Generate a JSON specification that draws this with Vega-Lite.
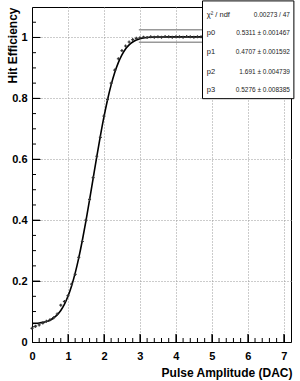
{
  "$schema": "https://vega.github.io/schema/vega-lite/v6.json",
  "width": 259,
  "height": 335,
  "autosize": {"type": "none"},
  "padding": {"left": 32, "top": 7, "right": 9, "bottom": 39},
  "background": "white",
  "config": {
    "view": {"stroke": "#000", "strokeWidth": 1},
    "font": "Liberation Sans",
    "axis": {
      "labelFont": "Liberation Sans",
      "labelFontWeight": "bold",
      "labelFontSize": 11,
      "labelColor": "#000",
      "titleFont": "Liberation Sans",
      "titleFontWeight": "bold",
      "titleFontSize": 12,
      "titleColor": "#000",
      "domainColor": "#000",
      "domainWidth": 1,
      "tickColor": "#000",
      "tickWidth": 1,
      "gridColor": "#999",
      "gridDash": [1, 2],
      "gridWidth": 1,
      "labelOverlap": false,
      "labelFlush": false
    }
  },
  "datasets": {
    "curve": [
      {"x": 0.0, "y": 0.0611}, {"x": 0.1, "y": 0.0616}, {"x": 0.2, "y": 0.0626}, {"x": 0.3, "y": 0.0644},
      {"x": 0.4, "y": 0.0673}, {"x": 0.5, "y": 0.0717}, {"x": 0.6, "y": 0.0788}, {"x": 0.7, "y": 0.089},
      {"x": 0.8, "y": 0.1035}, {"x": 0.9, "y": 0.1235}, {"x": 1.0, "y": 0.1501}, {"x": 1.1, "y": 0.1841},
      {"x": 1.2, "y": 0.2262}, {"x": 1.3, "y": 0.2763}, {"x": 1.4, "y": 0.3341}, {"x": 1.5, "y": 0.398},
      {"x": 1.6, "y": 0.4666}, {"x": 1.7, "y": 0.5375}, {"x": 1.8, "y": 0.6081}, {"x": 1.9, "y": 0.676},
      {"x": 2.0, "y": 0.739}, {"x": 2.1, "y": 0.7955}, {"x": 2.2, "y": 0.8442}, {"x": 2.3, "y": 0.8848},
      {"x": 2.4, "y": 0.9175}, {"x": 2.5, "y": 0.9428}, {"x": 2.6, "y": 0.962}, {"x": 2.7, "y": 0.9756},
      {"x": 2.8, "y": 0.9851}, {"x": 2.9, "y": 0.9915}, {"x": 3.0, "y": 0.9956}, {"x": 3.2, "y": 0.9998},
      {"x": 3.4, "y": 1.0013}, {"x": 3.6, "y": 1.0017}, {"x": 4.0, "y": 1.0018}, {"x": 4.74, "y": 1.0018}
    ],
    "points": [
      {"x": 0.0, "y": 0.045}, {"x": 0.1, "y": 0.052}, {"x": 0.2, "y": 0.056}, {"x": 0.3, "y": 0.062},
      {"x": 0.4, "y": 0.068}, {"x": 0.5, "y": 0.073}, {"x": 0.6, "y": 0.08}, {"x": 0.7, "y": 0.092},
      {"x": 0.8, "y": 0.121}, {"x": 0.9, "y": 0.133}, {"x": 1.0, "y": 0.152}, {"x": 1.1, "y": 0.19},
      {"x": 1.2, "y": 0.222}, {"x": 1.3, "y": 0.278}, {"x": 1.4, "y": 0.33}, {"x": 1.5, "y": 0.4},
      {"x": 1.6, "y": 0.468}, {"x": 1.7, "y": 0.54}, {"x": 1.8, "y": 0.61}, {"x": 1.9, "y": 0.672},
      {"x": 2.0, "y": 0.742}, {"x": 2.1, "y": 0.797}, {"x": 2.2, "y": 0.85}, {"x": 2.3, "y": 0.893},
      {"x": 2.4, "y": 0.93}, {"x": 2.5, "y": 0.957}, {"x": 2.6, "y": 0.972}, {"x": 2.7, "y": 0.985},
      {"x": 2.8, "y": 0.993}, {"x": 2.9, "y": 0.997}, {"x": 3.0, "y": 0.999}, {"x": 3.1, "y": 1.001},
      {"x": 3.2, "y": 1.0}, {"x": 3.3, "y": 1.002}, {"x": 3.4, "y": 1.001}, {"x": 3.5, "y": 1.002},
      {"x": 3.6, "y": 1.001}, {"x": 3.7, "y": 1.003}, {"x": 3.8, "y": 1.002}, {"x": 3.9, "y": 1.001},
      {"x": 4.0, "y": 1.002}, {"x": 4.1, "y": 1.002}, {"x": 4.2, "y": 1.001}, {"x": 4.3, "y": 1.003},
      {"x": 4.4, "y": 1.002}, {"x": 4.5, "y": 1.001}, {"x": 4.6, "y": 1.002}, {"x": 4.7, "y": 1.002}
    ],
    "xminor": [
      {"t": 0.2}, {"t": 0.4}, {"t": 0.6}, {"t": 0.8}, {"t": 1.2}, {"t": 1.4}, {"t": 1.6}, {"t": 1.8},
      {"t": 2.2}, {"t": 2.4}, {"t": 2.6}, {"t": 2.8}, {"t": 3.2}, {"t": 3.4}, {"t": 3.6}, {"t": 3.8},
      {"t": 4.2}, {"t": 4.4}, {"t": 4.6}, {"t": 4.8}, {"t": 5.2}, {"t": 5.4}, {"t": 5.6}, {"t": 5.8},
      {"t": 6.2}, {"t": 6.4}, {"t": 6.6}, {"t": 6.8}
    ],
    "xmajor": [{"t": 1}, {"t": 2}, {"t": 3}, {"t": 4}, {"t": 5}, {"t": 6}, {"t": 7}],
    "yminor": [
      {"t": 0.05}, {"t": 0.1}, {"t": 0.15}, {"t": 0.25}, {"t": 0.3}, {"t": 0.35}, {"t": 0.45}, {"t": 0.5},
      {"t": 0.55}, {"t": 0.65}, {"t": 0.7}, {"t": 0.75}, {"t": 0.85}, {"t": 0.9}, {"t": 0.95}, {"t": 1.05}
    ],
    "ymajor": [{"t": 0.2}, {"t": 0.4}, {"t": 0.6}, {"t": 0.8}, {"t": 1.0}]
  },
  "layer": [
    {
      "data": {"name": "curve"},
      "mark": {"type": "line", "color": "#000", "strokeWidth": 1.6, "interpolate": "monotone"},
      "encoding": {
        "x": {
          "field": "x", "type": "quantitative",
          "scale": {"domain": [0, 7.2], "nice": false, "zero": false},
          "axis": {
            "orient": "bottom",
            "values": [0, 1, 2, 3, 4, 5, 6, 7],
            "tickCount": 100,
            "format": "d",
            "ticks": true,
            "tickSize": -8,
            "grid": true,
            "labelPadding": 16,
            "title": "Pulse Amplitude (DAC)",
            "titleAnchor": "end",
            "titleAlign": "right",
            "titleBaseline": "middle",
            "titleX": 260,
            "titleY": 30
          }
        },
        "y": {
          "field": "y", "type": "quantitative",
          "scale": {"domain": [0, 1.1], "nice": false, "zero": false},
          "axis": {
            "orient": "left",
            "values": [0, 0.2, 0.4, 0.6, 0.8, 1],
            "tickCount": 100,
            "labelExpr": "format(datum.value, '.1~f')",
            "ticks": true,
            "tickSize": -8,
            "grid": true,
            "labelPadding": 13,
            "title": "Hit Efficiency",
            "titleAnchor": "end",
            "titleAlign": "right",
            "titleBaseline": "middle",
            "titleAngle": -90,
            "titleX": -20,
            "titleY": 0
          }
        }
      }
    },
    {
      "data": {"name": "xminor"},
      "mark": {"type": "rule", "color": "#000", "strokeWidth": 1},
      "encoding": {
        "x": {"field": "t", "type": "quantitative", "scale": {"domain": [0, 7.2], "nice": false, "zero": false}},
        "y": {"datum": 0, "type": "quantitative", "scale": {"domain": [0, 1.1], "nice": false, "zero": false}},
        "y2": {"datum": 0.0131}
      }
    },
    {
      "data": {"name": "xmajor"},
      "mark": {"type": "rule", "color": "#000", "strokeWidth": 1},
      "encoding": {
        "x": {"field": "t", "type": "quantitative", "scale": {"domain": [0, 7.2], "nice": false, "zero": false}},
        "y": {"datum": 0, "type": "quantitative", "scale": {"domain": [0, 1.1], "nice": false, "zero": false}},
        "y2": {"datum": 0.0263}
      }
    },
    {
      "data": {"name": "yminor"},
      "mark": {"type": "rule", "color": "#000", "strokeWidth": 1},
      "encoding": {
        "y": {"field": "t", "type": "quantitative", "scale": {"domain": [0, 1.1], "nice": false, "zero": false}},
        "x": {"datum": 0, "type": "quantitative", "scale": {"domain": [0, 7.2], "nice": false, "zero": false}},
        "x2": {"datum": 0.111}
      }
    },
    {
      "data": {"name": "ymajor"},
      "mark": {"type": "rule", "color": "#000", "strokeWidth": 1},
      "encoding": {
        "y": {"field": "t", "type": "quantitative", "scale": {"domain": [0, 1.1], "nice": false, "zero": false}},
        "x": {"datum": 0, "type": "quantitative", "scale": {"domain": [0, 7.2], "nice": false, "zero": false}},
        "x2": {"datum": 0.222}
      }
    },
    {
      "data": {"name": "points"},
      "mark": {"type": "point", "shape": "cross", "filled": true, "size": 9, "color": "#333", "opacity": 1},
      "encoding": {
        "x": {"field": "x", "type": "quantitative", "scale": {"domain": [0, 7.2], "nice": false, "zero": false}},
        "y": {"field": "y", "type": "quantitative", "scale": {"domain": [0, 1.1], "nice": false, "zero": false}}
      }
    },
    {
      "data": {"values": [{"k": 1.025}, {"k": 0.984}]},
      "mark": {"type": "rule", "color": "#999", "strokeWidth": 1.5},
      "encoding": {
        "y": {"field": "k", "type": "quantitative", "scale": {"domain": [0, 1.1], "nice": false, "zero": false}},
        "x": {"datum": 2.97, "type": "quantitative", "scale": {"domain": [0, 7.2], "nice": false, "zero": false}},
        "x2": {"datum": 4.74}
      }
    },
    {
      "data": {"values": [{}]},
      "mark": {"type": "rect", "fill": "white", "stroke": "#000", "strokeWidth": 1, "clip": false},
      "encoding": {
        "x": {"datum": 4.74, "type": "quantitative", "scale": {"domain": [0, 7.2], "nice": false, "zero": false}},
        "x2": {"datum": 7.28},
        "y": {"datum": 1.12, "type": "quantitative", "scale": {"domain": [0, 1.1], "nice": false, "zero": false}},
        "y2": {"datum": 0.799}
      }
    },
    {
      "data": {"values": [{"label": "χ² / ndf", "value": "0.00273 / 47"}]},
      "layer": [
        {"mark": {"type": "text", "align": "left", "baseline": "middle", "fontSize": 7.5, "color": "#222"}, "encoding": {"text": {"field": "label"}, "x": {"datum": 4.86, "type": "quantitative"}}},
        {"mark": {"type": "text", "align": "right", "baseline": "middle", "fontSize": 6.5, "color": "#222"}, "encoding": {"text": {"field": "value"}, "x": {"datum": 7.17, "type": "quantitative"}}}
      ],
      "encoding": {"y": {"datum": 1.0737, "type": "quantitative"}}
    },
    {
      "data": {"values": [{"label": "p0", "value": "0.5311 ± 0.001467"}]},
      "layer": [
        {"mark": {"type": "text", "align": "left", "baseline": "middle", "fontSize": 7.5, "color": "#222"}, "encoding": {"text": {"field": "label"}, "x": {"datum": 4.86, "type": "quantitative"}}},
        {"mark": {"type": "text", "align": "right", "baseline": "middle", "fontSize": 6.5, "color": "#222"}, "encoding": {"text": {"field": "value"}, "x": {"datum": 7.17, "type": "quantitative"}}}
      ],
      "encoding": {"y": {"datum": 1.0146, "type": "quantitative"}}
    },
    {
      "data": {"values": [{"label": "p1", "value": "0.4707 ± 0.001592"}]},
      "layer": [
        {"mark": {"type": "text", "align": "left", "baseline": "middle", "fontSize": 7.5, "color": "#222"}, "encoding": {"text": {"field": "label"}, "x": {"datum": 4.86, "type": "quantitative"}}},
        {"mark": {"type": "text", "align": "right", "baseline": "middle", "fontSize": 6.5, "color": "#222"}, "encoding": {"text": {"field": "value"}, "x": {"datum": 7.17, "type": "quantitative"}}}
      ],
      "encoding": {"y": {"datum": 0.9522, "type": "quantitative"}}
    },
    {
      "data": {"values": [{"label": "p2", "value": "1.691 ± 0.004739"}]},
      "layer": [
        {"mark": {"type": "text", "align": "left", "baseline": "middle", "fontSize": 7.5, "color": "#222"}, "encoding": {"text": {"field": "label"}, "x": {"datum": 4.86, "type": "quantitative"}}},
        {"mark": {"type": "text", "align": "right", "baseline": "middle", "fontSize": 6.5, "color": "#222"}, "encoding": {"text": {"field": "value"}, "x": {"datum": 7.17, "type": "quantitative"}}}
      ],
      "encoding": {"y": {"datum": 0.8865, "type": "quantitative"}}
    },
    {
      "data": {"values": [{"label": "p3", "value": "0.5276 ± 0.008385"}]},
      "layer": [
        {"mark": {"type": "text", "align": "left", "baseline": "middle", "fontSize": 7.5, "color": "#222"}, "encoding": {"text": {"field": "label"}, "x": {"datum": 4.86, "type": "quantitative"}}},
        {"mark": {"type": "text", "align": "right", "baseline": "middle", "fontSize": 6.5, "color": "#222"}, "encoding": {"text": {"field": "value"}, "x": {"datum": 7.17, "type": "quantitative"}}}
      ],
      "encoding": {"y": {"datum": 0.8274, "type": "quantitative"}}
    }
  ]
}
